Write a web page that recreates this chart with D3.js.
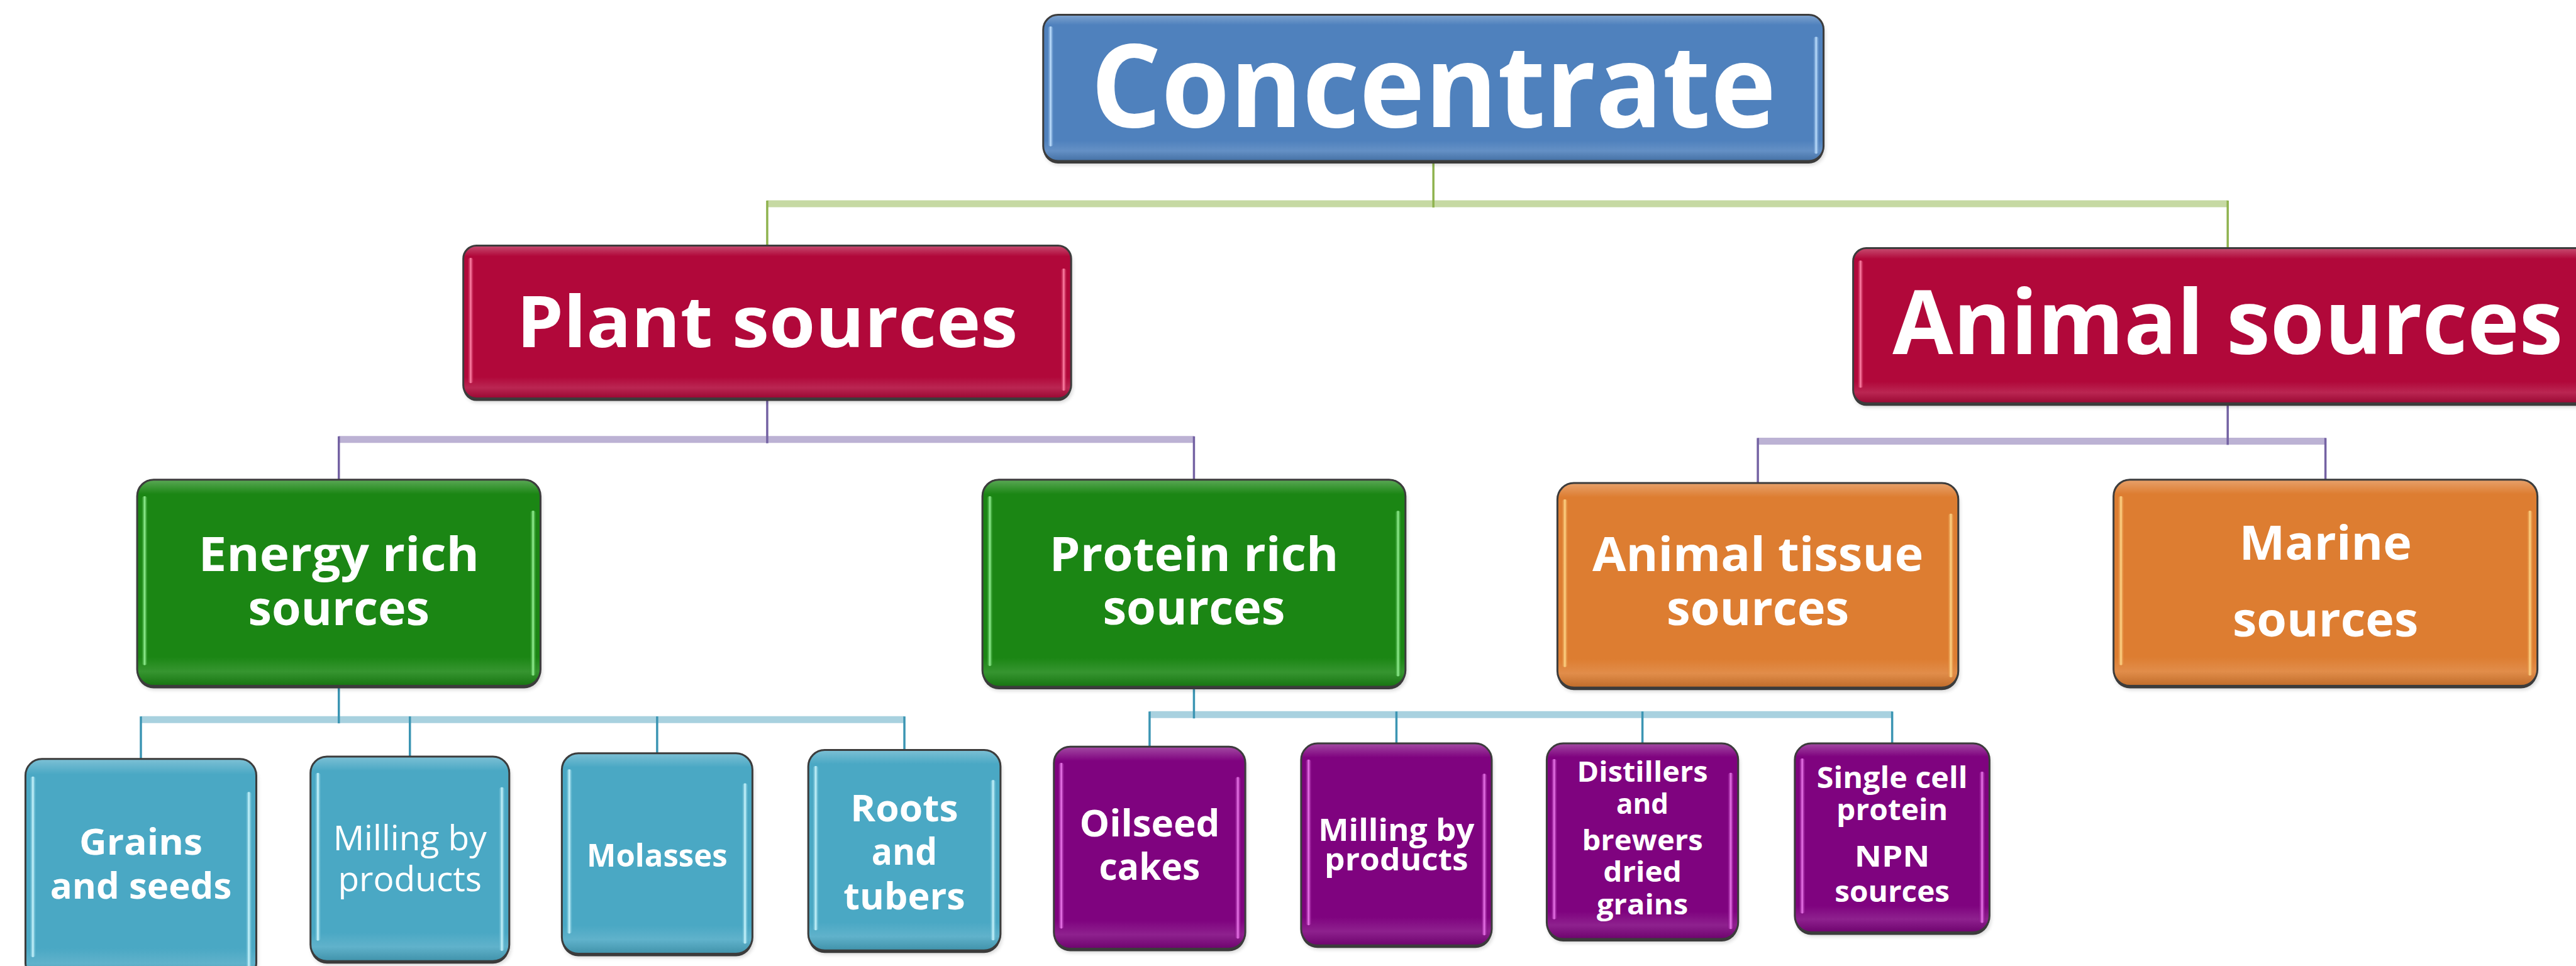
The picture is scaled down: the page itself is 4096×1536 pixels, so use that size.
<!DOCTYPE html>
<html>
<head>
<meta charset="utf-8">
<script src="https://cdn.jsdelivr.net/npm/d3@7"></script>
<style>
html,body{margin:0;padding:0;background:#ffffff;overflow:hidden}
svg{display:block}
</style>
</head>
<body>
<svg id="chart" width="4096" height="1536"></svg>
<script>
// ---------------- data (tree content) ----------------
const nodeIds = ["concentrate","plant","animal","energy","protein","tissue","marine",
  "grains","millingE","molasses","roots","oilseed","millingP","distillers","single"];
const nodeParents = [null,"concentrate","concentrate","plant","plant","animal","animal",
  "energy","energy","energy","energy","protein","protein","protein","protein"];
const nodeLabels = [
  ["Concentrate"],
  ["Plant sources"],
  ["Animal sources"],
  ["Energy rich","sources"],
  ["Protein rich","sources"],
  ["Animal tissue","sources"],
  ["Marine","sources"],
  ["Grains","and seeds"],
  ["Milling by","products"],
  ["Molasses"],
  ["Roots","and","tubers"],
  ["Oilseed","cakes"],
  ["Milling by","products"],
  ["Distillers","and","brewers","dried","grains"],
  ["Single cell","protein","NPN","sources"]
];
const nodeGroups = ["root","source","source","plant","plant","animal","animal",
  "energy","energy","energy","energy","protein","protein","protein","protein"];

// ---------------- layout (reference pixel space, 1568 x 588) ----------------
const boxLayout = {
  concentrate:{box:[635,9,1110,98],   r:9,  fs:70,   w:700, base:[77.2],  len:[417]},
  plant:      {box:[282,149.5,652,242.5], r:8, fs:43, w:700, base:[211.5], len:[305]},
  animal:     {box:[1128,151,1584,245.5], r:8, fs:54, w:700, base:[215.7], len:[408]},
  energy:     {box:[83.5,292,329,417.5], r:10, fs:29, w:700, base:[347.5,380.5], len:[171,110.5]},
  protein:    {box:[598,292,855.5,418], r:10, fs:29, w:700, base:[347.5,380.2], len:[176,111]},
  tissue:     {box:[948,294,1192,418.5], r:10, fs:29, w:700, base:[347.5,380.5], len:[201.5,111]},
  marine:     {box:[1286.5,292,1544.5,417.5], r:10, fs:29, w:700, base:[340.8,387.4], len:[105,113]},
  grains:     {box:[15.5,462,156,596], r:10, fs:22, w:700, base:[520.3,547], len:[75,110.5]},
  millingE:   {box:[189,460.5,310,585], r:10, fs:21.3, w:400, base:[517.5,542.3], len:[93.5,87.5]},
  molasses:   {box:[342,458.5,458,580.5], r:10, fs:19.5, w:700, base:[527.6], len:[85.6]},
  roots:      {box:[492,456.5,609,578.5], r:10, fs:22.5, w:700, base:[499.9,526.5,553.6], len:[65.6,40,74]},
  oilseed:    {box:[641.5,454.5,758,577.5], r:10, fs:22.5, w:700, base:[509,535.5], len:[85.4,61.5]},
  millingP:   {box:[792,452.5,908,575.5], r:10, fs:18.5, w:700, base:[511.8,530], len:[95,87.5]},
  distillers: {box:[941.5,452.5,1058,571.5], r:10, fs:17, w:700, base:[476,495.4,517.4,536.7,556.5], len:[79.6,31.8,73.6,47.7,55.6]},
  single:     {box:[1092.5,452.5,1211,567.5], r:10, fs:17.5, w:700, base:[479.5,499.3,527.6,549], len:[91.8,67.8,45.9,70]}
};
const barLevel = {concentrate:124, plant:267.5, animal:268.5, energy:438, protein:435};

// ---------------- styles ----------------
const groupFill = {root:"#4f81bd", source:"#b1083a", plant:"#1b8614", animal:"#dd7d31", energy:"#4aa8c4", protein:"#7f037f"};
const groupGlow = {root:"#c2e2ff", source:"#ff86a8", plant:"#9af59a", animal:"#ffd98a", energy:"#cff8ff", protein:"#ef7cef"};
const linkStyle = {
  concentrate:{stem:"#8fb34f", bar:"#c6d9a3"},
  plant:{stem:"#7462a3", bar:"#bcb2d4"},
  animal:{stem:"#7462a3", bar:"#bcb2d4"},
  energy:{stem:"#3b95b3", bar:"#a8d1df"},
  protein:{stem:"#3b95b3", bar:"#a8d1df"}
};

// ---------------- scale & helpers ----------------
const ref = d3.scaleLinear().domain([0, 1568]).range([0, 4096]);
const len = v => ref(v) - ref(0);

const svg = d3.select("#chart");
svg.append("rect").attr("width",4096).attr("height",1536).attr("fill","#ffffff");
const defs = svg.append("defs");

Object.keys(groupFill).forEach(g => {
  const base = d3.color(groupFill[g]);
  const light = d3.interpolateRgb(groupFill[g], "#ffffff")(0.28);
  const lighter2 = d3.interpolateRgb(groupFill[g], "#ffffff")(0.12);
  const grad = defs.append("linearGradient").attr("id","grad-"+g)
    .attr("x1",0).attr("y1",0).attr("x2",0).attr("y2",1);
  [[0,light],[0.07,base.formatHex()],[0.86,base.formatHex()],[0.93,lighter2],[1,base.darker(0.4).formatHex()]]
    .forEach(([o,c]) => grad.append("stop").attr("offset",o).attr("stop-color",c));
  const glow = defs.append("linearGradient").attr("id","glow-"+g)
    .attr("x1",0).attr("y1",0).attr("x2",1).attr("y2",0);
  [[0,groupFill[g],0.3],[0.5,groupGlow[g],1],[1,groupFill[g],0.3]]
    .forEach(([o,c,op]) => glow.append("stop").attr("offset",o).attr("stop-color",c).attr("stop-opacity",op));
});
const blur = defs.append("filter").attr("id","soft").attr("x","-20%").attr("y","-20%").attr("width","140%").attr("height","140%");
blur.append("feGaussianBlur").attr("stdDeviation",3);

// ---------------- hierarchy ----------------
const table = nodeIds.map((id,i) => ({id, parent:nodeParents[i], lines:nodeLabels[i], group:nodeGroups[i]}));
const root = d3.stratify().id(d => d.id).parentId(d => d.parent)(table);

const gLinks = svg.append("g");
const gNodes = svg.append("g");

// connectors
root.descendants().filter(n => n.children).forEach(p => {
  const pl = boxLayout[p.id].box;
  const st = linkStyle[p.id];
  const by = barLevel[p.id];
  const pcx = (pl[0] + pl[2]) / 2;
  const kids = p.children.map(c => {
    const b = boxLayout[c.id].box;
    return {cx:(b[0]+b[2])/2, top:b[1]};
  });
  const xmin = d3.min(kids, k => k.cx), xmax = d3.max(kids, k => k.cx);
  gLinks.append("line")
    .attr("x1", ref(xmin)).attr("x2", ref(xmax))
    .attr("y1", ref(by)).attr("y2", ref(by))
    .attr("stroke", st.bar).attr("stroke-width", 11).attr("stroke-linecap","butt");
  gLinks.append("line")
    .attr("x1", ref(pcx)).attr("x2", ref(pcx))
    .attr("y1", ref(pl[3]) - 4).attr("y2", ref(by) + 6)
    .attr("stroke", st.stem).attr("stroke-width", 3.5);
  kids.forEach(k => {
    gLinks.append("line")
      .attr("x1", ref(k.cx)).attr("x2", ref(k.cx))
      .attr("y1", ref(by) - 5).attr("y2", ref(k.top) + 3)
      .attr("stroke", st.stem).attr("stroke-width", 3.5);
  });
});

// boxes
root.descendants().forEach(n => {
  const L = boxLayout[n.id];
  const [x0,y0,x1,y1] = L.box;
  const g = gNodes.append("g");
  const X0 = ref(x0), Y0 = ref(y0), W = len(x1-x0), H = len(y1-y0), R = len(L.r);
  g.append("rect").attr("x",X0+2).attr("y",Y0+6).attr("width",W).attr("height",H)
    .attr("rx",R).attr("fill","#000").attr("opacity",0.18).attr("filter","url(#soft)");
  g.append("rect").attr("x",X0).attr("y",Y0+4).attr("width",W).attr("height",H)
    .attr("rx",R).attr("fill","#3a3a3a");
  g.append("rect").attr("x",X0).attr("y",Y0).attr("width",W).attr("height",H)
    .attr("rx",R).attr("fill","url(#grad-"+n.data.group+")")
    .attr("stroke","#3c3c3c").attr("stroke-width",3);
  const sw = 10;
  g.append("rect").attr("x", X0 + len(2.6)).attr("y", Y0 + H*0.08)
    .attr("width", sw).attr("height", H*0.82).attr("rx", sw/2)
    .attr("fill","url(#glow-"+n.data.group+")");
  g.append("rect").attr("x", X0 + W - len(2.6) - sw).attr("y", Y0 + H*0.15)
    .attr("width", sw).attr("height", H*0.80).attr("rx", sw/2)
    .attr("fill","url(#glow-"+n.data.group+")");
  const cx = ref((x0+x1)/2);
  n.data.lines.forEach((t,i) => {
    g.append("text")
      .attr("x", cx).attr("y", ref(L.base[i]))
      .attr("text-anchor","middle")
      .attr("font-family","'Open Sans', 'DejaVu Sans', sans-serif")
      .attr("font-weight", L.w)
      .attr("font-size", len(L.fs))
      .attr("fill","#ffffff")
      .attr("textLength", len(L.len[i]))
      .attr("lengthAdjust","spacingAndGlyphs")
      .text(t);
  });
});
</script>
</body>
</html>
